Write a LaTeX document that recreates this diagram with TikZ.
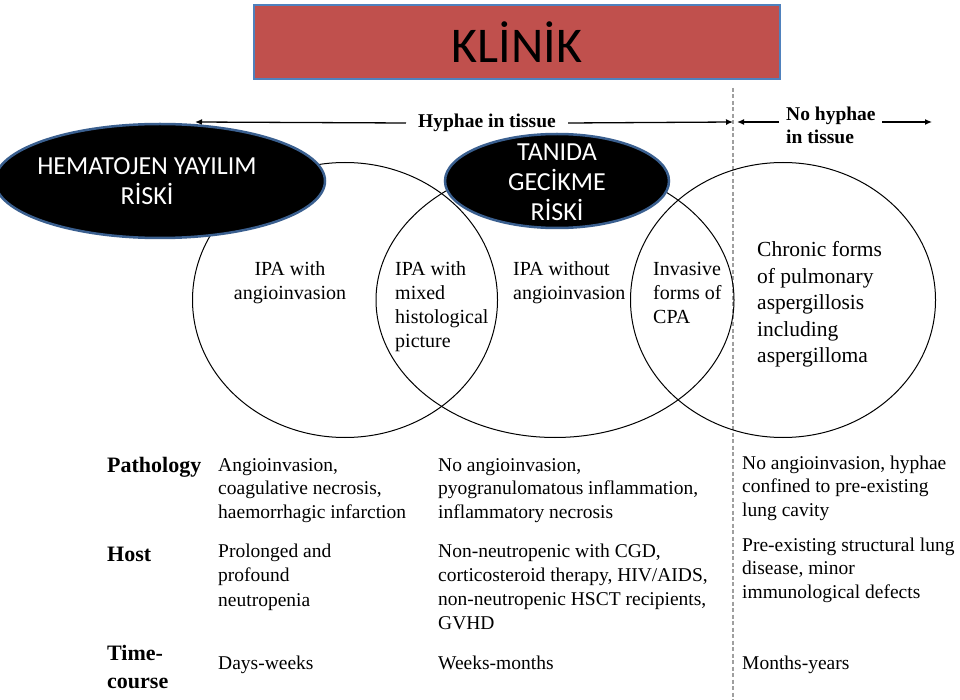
\documentclass[tikz,border=0pt]{standalone}
\usepackage{fontspec}
\usetikzlibrary{arrows.meta,shapes.geometric}
\newfontfamily\calib{Carlito}
\newfontfamily\tnr{Liberation Serif}
\definecolor{titlered}{HTML}{C0504D}
\definecolor{titleblue}{HTML}{4F81BD}
\definecolor{ellblue}{HTML}{3A5F8F}
\newcommand{\mlines}[1]{\begin{tabular}[t]{@{}l@{}}#1\end{tabular}}
\newcommand{\mlinesc}[1]{\begin{tabular}[t]{@{}c@{}}#1\end{tabular}}
\tikzset{
  venn/.style={draw=black, line width=1pt},
  blackell/.style={ellipse, fill=black, draw=ellblue, line width=2.5pt, inner sep=0pt},
  elltext/.style={text=white, align=center, inner sep=0pt, font=\calib\fontsize{26}{30}\selectfont},
  intext/.style={font=\tnr\fontsize{20}{23.7}\selectfont, inner sep=0pt, anchor=base west},
  tabtext/.style={font=\tnr\fontsize{19.5}{23.5}\selectfont, inner sep=0pt, anchor=base west},
  rowhead/.style={font=\tnr\bfseries\fontsize{22}{28}\selectfont, inner sep=0pt, anchor=base west},
  hyph/.style={font=\tnr\bfseries\fontsize{19.5}{23}\selectfont, inner sep=0pt},
  arr/.style={line width=1.3pt, -{Latex[length=7pt,width=6pt]}},
}
\begin{document}
\begin{tikzpicture}[x=1pt,y=-1pt]
\useasboundingbox (0,0) rectangle (960,700);
\fill[white] (0,0) rectangle (960,700);
% title
\node[draw=titleblue, fill=titlered, line width=2pt, minimum width=526pt, minimum height=74pt, inner sep=0pt, font=\calib\fontsize{50}{56}\selectfont] (title) at (517,42) {KLİNİK};
% dashed separator
\coordinate (dtop) at (733,88);
\coordinate (dbot) at (733,700);
\draw[gray!75, line width=1.1pt, dash pattern=on 4pt off 2.5pt] (dtop) -- (dbot);
% top arrows
\node[hyph] (hyphae) at (487,123) {Hyphae in tissue};
\coordinate (hl) at (195,122);
\coordinate (hr) at (733,122);
\draw[arr] (hyphae.west) ++(-12,0) coordinate (hw) -- (hl);
\draw[arr] (hyphae.east) ++(12,0) coordinate (he) -- (hr);
\node[hyph, anchor=base west] (nohyph) at (786,121) {\mlines{No hyphae\\in tissue}};
\coordinate (nl) at (737,122);
\coordinate (nla) at (779,122);
\coordinate (nr) at (932,122);
\coordinate (nra) at (882,122);
\draw[arr] (nla) -- (nl);
\draw[arr] (nra) -- (nr);
% venn ellipses
\node[venn, ellipse, minimum width=305pt, minimum height=275pt, inner sep=0pt] (c1) at (345,300) {};
\node[venn, ellipse, minimum width=358pt, minimum height=275pt, inner sep=0pt] (c2) at (555,300) {};
\node[venn, ellipse, minimum width=305pt, minimum height=275pt, inner sep=0pt] (c3) at (783,300) {};
% black ellipses
\node[blackell, minimum width=330pt, minimum height=114pt] (hema) at (160,181) {};
\node[elltext] (hemat) at (147,181) {HEMATOJEN YAYILIM\\RİSKİ};
\node[blackell, minimum width=224pt, minimum height=94pt] (tani) at (557,181) {};
\node[elltext] (tanit) at (557,182) {TANIDA\\GECİKME\\RİSKİ};
% circle texts
\node[intext, anchor=base] (t1) at (290,276) {\mlinesc{IPA with\\angioinvasion}};
\node[intext] (t2) at (395,276) {\mlines{IPA with\\mixed\\histological\\picture}};
\node[intext] (t3) at (513,276) {\mlines{IPA without\\angioinvasion}};
\node[intext] (t4) at (653,276) {\mlines{Invasive\\forms of\\CPA}};
\node[intext, font=\tnr\fontsize{21.5}{26.5}\selectfont] (t5) at (757,257) {\mlines{Chronic forms\\of pulmonary\\aspergillosis\\including\\aspergilloma}};
% table
\node[rowhead] (path) at (107,472) {Pathology};
\node[rowhead] (host) at (107,561) {Host};
\node[rowhead] (time) at (107,660) {\mlines{Time-\\course}};
\node[tabtext] (p1) at (218,471) {\mlines{Angioinvasion,\\coagulative necrosis,\\haemorrhagic infarction}};
\node[tabtext] (p2) at (438,471) {\mlines{No angioinvasion,\\pyogranulomatous inflammation,\\inflammatory necrosis}};
\node[tabtext] (p3) at (742,469) {\mlines{No angioinvasion, hyphae\\confined to pre-existing\\lung cavity}};
\node[tabtext, font=\tnr\fontsize{19.5}{24.5}\selectfont] (h1) at (218,557) {\mlines{Prolonged and\\profound\\neutropenia}};
\node[tabtext, font=\tnr\fontsize{19.5}{24}\selectfont] (h2) at (438,557) {\mlines{Non-neutropenic with CGD,\\corticosteroid therapy, HIV/AIDS,\\non-neutropenic HSCT recipients,\\GVHD}};
\node[tabtext] (h3) at (742,551) {\mlines{Pre-existing structural lung\\disease, minor\\immunological defects}};
\node[tabtext] (d1) at (218,669) {Days-weeks};
\node[tabtext] (d2) at (438,669) {Weeks-months};
\node[tabtext] (d3) at (742,669) {Months-years};
\end{tikzpicture}
\end{document}
